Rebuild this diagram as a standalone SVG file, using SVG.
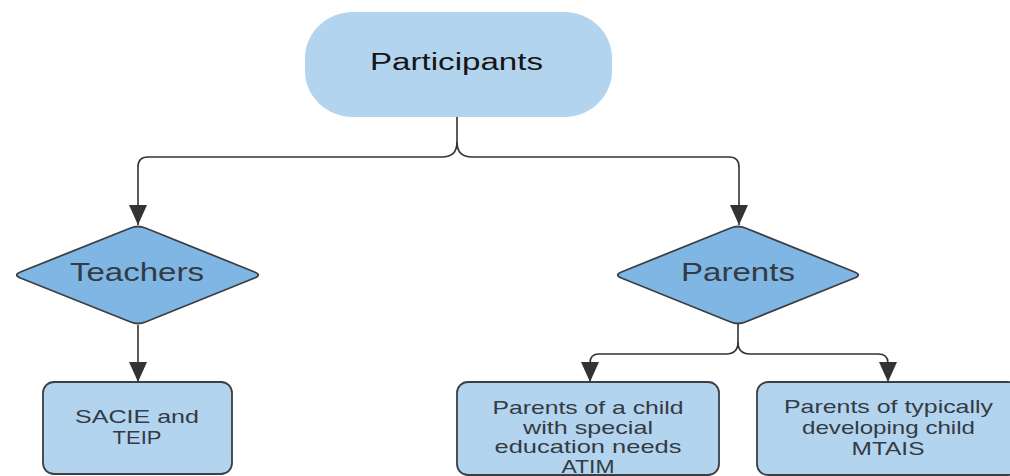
<svg xmlns="http://www.w3.org/2000/svg" width="1010" height="476" viewBox="0 0 1010 476">
<defs>
<style>
.box{fill:#b3d4ee;stroke:#3b3f44;stroke-width:1.8}
.dia{fill:#80b6e3;stroke:#3b3f44;stroke-width:1.8;stroke-linejoin:round}
.con{fill:none;stroke:#333;stroke-width:1.6}
text{font-family:"Liberation Sans",Arial,sans-serif;text-anchor:middle;fill:#333b44}
.t1{font-size:23.5px;fill:#151515}
.t2{font-size:25px}
.t3{font-size:19px}
</style>
<marker id="ah" markerUnits="userSpaceOnUse" markerWidth="20" markerHeight="18" refX="20" refY="9" orient="auto">
<path d="M0,0 L20,9 L0,18 z" fill="#333"/>
</marker>
</defs>
<rect width="1010" height="476" fill="#ffffff"/>
<g id="connectors">
<path class="con" d="M457,117 V142 Q457,157 442,157 H148 Q138,157 138,167 V225" marker-end="url(#ah)"/>
<path class="con" d="M457,142 Q457,157 472,157 H729 Q739,157 739,167 V225" marker-end="url(#ah)"/>
<path class="con" d="M138,325 V382" marker-end="url(#ah)"/>
<path class="con" d="M738,324 V342 Q738,354 726,354 H599 Q590,354 590,363 V382" marker-end="url(#ah)"/>
<path class="con" d="M738,342 Q738,354 750,354 H878 Q888,354 888,363 V382" marker-end="url(#ah)"/>
</g>
<g id="participants">
<rect x="305" y="12" width="307" height="105" rx="48" ry="46" fill="#b3d4ee"/>
<text class="t1" x="456.5" y="70" textLength="173" lengthAdjust="spacingAndGlyphs">Participants</text>
</g>
<g id="teachers">
<path class="dia" d="M20.4,272 L130.6,228 Q138,225 145.4,228 L254.6,272 Q262,275 254.6,278 L145.4,322 Q138,325 130.6,322 L20.4,278 Q13,275 20.4,272 Z"/>
<text class="t2" x="137" y="281" textLength="134" lengthAdjust="spacingAndGlyphs">Teachers</text>
</g>
<g id="parents">
<path class="dia" d="M621.4,272 L730.6,228 Q738,225 745.4,228 L854.6,272 Q862,275 854.6,278 L745.4,322 Q738,325 730.6,322 L621.4,278 Q614,275 621.4,272 Z"/>
<text class="t2" x="738" y="281" textLength="114" lengthAdjust="spacingAndGlyphs">Parents</text>
</g>
<g id="sacie">
<rect class="box" x="43" y="382" width="189" height="92" rx="11"/>
<text class="t3" x="137" y="423" textLength="124" lengthAdjust="spacingAndGlyphs">SACIE and</text>
<text class="t3" x="137" y="444" textLength="49" lengthAdjust="spacingAndGlyphs">TEIP</text>
</g>
<g id="atim">
<rect class="box" x="457" y="382" width="262" height="93" rx="11"/>
<text class="t3" x="588" y="414" textLength="191" lengthAdjust="spacingAndGlyphs">Parents of a child</text>
<text class="t3" x="588" y="433.5" textLength="130" lengthAdjust="spacingAndGlyphs">with special</text>
<text class="t3" x="588" y="453" textLength="187" lengthAdjust="spacingAndGlyphs">education needs</text>
<text class="t3" x="588" y="472.5" textLength="53" lengthAdjust="spacingAndGlyphs">ATIM</text>
</g>
<g id="mtais">
<rect class="box" x="757" y="382" width="262" height="93" rx="11"/>
<text class="t3" x="888.5" y="413" textLength="209" lengthAdjust="spacingAndGlyphs">Parents of typically</text>
<text class="t3" x="888.5" y="434" textLength="173" lengthAdjust="spacingAndGlyphs">developing child</text>
<text class="t3" x="888" y="455" textLength="73" lengthAdjust="spacingAndGlyphs">MTAIS</text>
</g>
</svg>
